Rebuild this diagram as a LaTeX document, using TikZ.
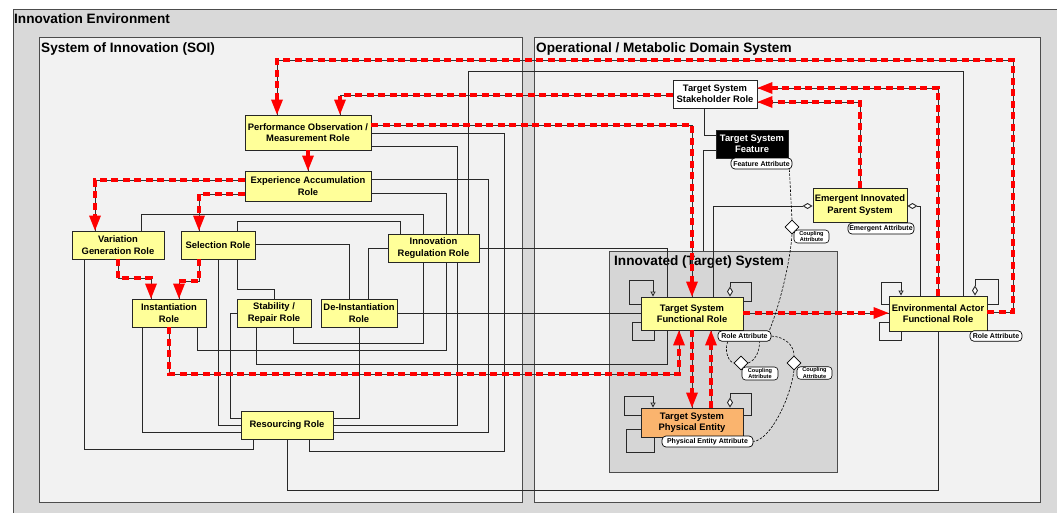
\documentclass[tikz,border=0pt]{standalone}
\usepackage{fontspec}
\setmainfont{Liberation Sans}
\usetikzlibrary{arrows.meta,shapes.geometric}
\definecolor{envgray}{RGB}{217,217,217}
\definecolor{panel}{RGB}{242,242,242}
\definecolor{tsgray}{RGB}{214,214,214}
\definecolor{roleyellow}{RGB}{255,255,153}
\definecolor{entityorange}{RGB}{250,180,110}
\definecolor{wirecol}{RGB}{40,40,40}
\pgfdeclarelayer{frames}
\pgfdeclarelayer{wires}
\pgfsetlayers{frames,wires,main}

\begin{document}
\begin{tikzpicture}[x=1pt,y=-1pt,
  frame/.style={draw=black!70, line width=1.1pt, inner sep=0, anchor=north west},
  title/.style={anchor=base west, inner sep=0, font=\bfseries\fontsize{13.6}{16}\selectfont},
  role/.style={draw=black!85, line width=0.9pt, fill=roleyellow, align=center, inner sep=0,
    font=\bfseries\fontsize{9.4}{11.3}\selectfont},
  attr/.style={draw=black, line width=0.7pt, fill=white, rounded corners=4pt, inner sep=0,
    font=\bfseries\fontsize{7}{8}\selectfont},
  coup/.style={draw=black, line width=0.6pt, fill=white, rounded corners=3.5pt, inner sep=0,
    align=center, font=\bfseries\fontsize{5.6}{6.3}\selectfont},
  cdia/.style={diamond, draw=black, fill=white, line width=0.6pt, minimum width=14pt,
    minimum height=14pt, inner sep=0},
  wire/.style={draw=wirecol, line width=0.9pt},
  flowbase/.style={draw=black!80, line width=0.8pt},
  flow/.style={draw=red, line width=3.4pt, dash pattern=on 7pt off 4.5pt},
  flowtip/.style={-{Triangle[length=15pt,width=12pt,line width=0pt,fill=red]}},
  gen/.style={-{Triangle[open,length=5pt,width=5pt,fill=white]}},
  agg/.style={-{Diamond[length=10pt,width=6pt,fill=white]}},
  link/.style={draw=black, line width=0.6pt, dash pattern=on 2.5pt off 1.5pt},
  ]
\useasboundingbox (0,0) rectangle (1057,512);
\clip (0,0) rectangle (1057,512);

% ---------- frames ----------
\begin{pgfonlayer}{frames}
\fill[white] (0,0) rectangle (1057,512);
\node[frame, fill=envgray, minimum width=1100pt, minimum height=560pt] (ienv) at (13,9) {};
\node[title] at (14,23.5) {Innovation Environment};
\node[frame, fill=panel, minimum width=483pt, minimum height=465pt] (soi) at (39,37) {};
\node[title] at (41,52) {System of Innovation (SOI)};
\node[frame, fill=panel, minimum width=506pt, minimum height=465pt] (ops) at (534,37) {};
\node[title] at (536,52) {Operational / Metabolic Domain System};
\node[frame, fill=tsgray, line width=1pt, minimum width=228pt, minimum height=221pt] (tsys) at (609,251) {};
\node[title] at (614,265.5) {Innovated (Target) System};
\end{pgfonlayer}

% ---------- roles of the system of innovation ----------
\node[role, minimum width=126pt, minimum height=35pt] (perf) at (308,132.5) {Performance Observation /\\Measurement Role};
\node[role, minimum width=126pt, minimum height=30pt] (exp) at (308,186) {Experience Accumulation\\Role};
\node[role, minimum width=92pt, minimum height=28pt] (var) at (118,245) {Variation\\Generation Role};
\node[role, minimum width=74pt, minimum height=28pt] (sel) at (218,245) {Selection Role};
\node[role, minimum width=91pt, minimum height=28pt] (inno) at (433.5,248) {Innovation\\Regulation Role};
\node[role, minimum width=74pt, minimum height=28pt] (inst) at (169,313) {Instantiation\\Role};
\node[role, minimum width=74pt, minimum height=28pt] (stab) at (274,313) {Stability /\\Repair Role};
\node[role, minimum width=76pt, minimum height=28pt] (deinst) at (359,313) {De-Instantiation\\Role};
\node[role, minimum width=92pt, minimum height=28pt] (resr) at (287,425) {Resourcing Role};

% ---------- operational domain ----------
\node[role, fill=white, minimum width=84pt, minimum height=28pt] (stake) at (715,94) {Target System\\Stakeholder Role};
\node[role, fill=black, text=white, minimum width=72pt, minimum height=28pt] (feat) at (752,144) {Target System\\Feature};
\node[role, minimum width=94pt, minimum height=34pt] (emerg) at (860,205) {Emergent Innovated\\Parent System};
\node[role, minimum width=102pt, minimum height=33pt] (func) at (692,313.5) {Target System\\Functional Role};
\node[role, fill=entityorange, minimum width=102pt, minimum height=29pt] (phys) at (692,422.5) {Target System\\Physical Entity};
\node[role, minimum width=98pt, minimum height=35pt] (env) at (938,313.5) {Environmental Actor\\Functional Role};

% ---------- black connectors (behind the boxes) ----------
\begin{pgfonlayer}{wires}
\draw[wire] (perf.east |- 0,133) -- (504,133) -- (504,451) -- (309,451) -- (resr.south -| 309,0);
\draw[wire] (perf.east |- 0,146) -- (457,146) -- (457,425) -- (resr.east |- 0,425);
\draw[wire] (exp.east |- 0,179) -- (488,179) -- (488,432) -- (resr.east |- 0,432);
\draw[wire] (exp.east |- 0,193) -- (446,193) -- (446,350) -- (197,350) -- (inst.south -| 197,0);
\draw[wire] (var.north -| 141,0) -- (141,214) -- (423,214) -- (423,343) -- (293,343) -- (stab.south -| 293,0);
\draw[wire] (sel.north -| 237,0) -- (237,221) -- (400,221) -- (inno.north -| 400,0);
\draw[wire] (sel.east |- 0,244) -- (349,244) -- (deinst.north -| 349,0);
\draw[wire] (sel.south -| 237,0) -- (237,289) -- (274,289) -- (stab.north);
\draw[wire] (sel.south -| 218,0) -- (218,425) -- (resr.west |- 0,425);
\draw[wire] (var.south -| 84,0) -- (84,449) -- (253,449) -- (resr.south -| 253,0);
\draw[wire] (inst.south -| 142,0) -- (142,432) -- (resr.west |- 0,432);
\draw[wire] (stab.west) -- (230,313) -- (230,418) -- (resr.west |- 0,418);
\draw[wire] (deinst.south) -- (359,418) -- (resr.east |- 0,418);
\draw[wire] (resr.south) -- (287,490) -- (938,490) -- (env.south);
\draw[wire] (inno.north -| 468,0) -- (468,71) -- (963,71) -- (env.north -| 963,0);
\draw[wire] (inno.east |- 0,248) -- (667,248) -- (667,364) -- (256,364) -- (stab.south -| 256,0);
\draw[wire] (inno.west |- 0,248) -- (368,248) -- (deinst.north -| 368,0);
\draw[wire] (deinst.east) -- (func.west |- 0,313);
\draw[wire] (stake.south -| 704,0) -- (704,135) -- (feat.west |- 0,135);
\draw[wire] (feat.west |- 0,150) -- (703,150) -- (tsys.north -| 703,0);
\draw[wire, agg] (func.north -| 713,0) -- (713,206) -- (emerg.west |- 0,206);
\draw[wire, agg] (env.north -| 920,0) -- (920,206) -- (emerg.east |- 0,206);

% ---------- self loops ----------
\draw[wire, gen] (func.west |- 0,304) -- (629,304) -- (629,280) -- (653,280) -- (func.north -| 653,0);
\draw[wire] (func.west |- 0,322) -- (632,322) -- (632,340) -- (654,340) -- (func.south -| 654,0);
\draw[wire, agg] (func.east |- 0,301) -- (751,301) -- (751,282) -- (730,282) -- (func.north -| 730,0);
\draw[wire, gen] (phys.west |- 0,415) -- (624,415) -- (624,396) -- (653,396) -- (phys.north -| 653,0);
\draw[wire] (phys.west |- 0,429) -- (626,429) -- (626,452) -- (654,452) -- (phys.south -| 654,0);
\draw[wire, agg] (phys.east |- 0,415) -- (751,415) -- (751,393) -- (730,393) -- (phys.north -| 730,0);
\draw[wire, gen] (env.west |- 0,304) -- (881,304) -- (881,282) -- (901,282) -- (env.north -| 901,0);
\draw[wire] (env.west |- 0,322) -- (879,322) -- (879,340) -- (901,340) -- (env.south -| 901,0);
\draw[wire, agg] (env.east |- 0,304) -- (998,304) -- (998,279) -- (975,279) -- (env.north -| 975,0);
\end{pgfonlayer}

% ---------- red flows ----------
\foreach \p in {
  {(env.east |- 0,312) -- (1013,312) -- (1013,60) -- (277,60) -- (perf.north -| 277,0)},
  {(stake.west |- 0,95) -- (340,95) -- (perf.north -| 340,0)},
  {(perf.east |- 0,125) -- (692,125) -- (func.north -| 692,0)},
  {(env.north) -- (938,88) -- (stake.east |- 0,88)},
  {(emerg.north) -- (860,102) -- (stake.east |- 0,102)},
  {(perf.south) -- (exp.north)},
  {(exp.west |- 0,180) -- (95,180) -- (var.north -| 95,0)},
  {(exp.west |- 0,194) -- (199,194) -- (sel.north -| 199,0)},
  {(var.south -| 118,0) -- (118,278) -- (151,278) -- (inst.north -| 151,0)},
  {(sel.south -| 199,0) -- (199,281) -- (179,281) -- (inst.north -| 179,0)},
  {(inst.south) -- (169,374) -- (679,374) -- (func.south -| 679,0)},
  {(func.south) -- (phys.north)},
  {(phys.north -| 711,0) -- (func.south -| 711,0)},
  {(func.east |- 0,313) -- (env.west |- 0,313)}}
{
  \draw[flowbase] \p;
  \draw[flow, flowtip] \p;
}

% ---------- attributes and couplings ----------
\node[attr, minimum width=61pt, minimum height=11pt] (featattr) at (761.5,163.5) {Feature Attribute};
\node[attr, minimum width=66pt, minimum height=11pt] (emattr) at (881,228.5) {Emergent Attribute};
\node[attr, minimum width=53pt, minimum height=10.5pt] (roleattr) at (744.5,336) {Role Attribute};
\node[attr, minimum width=52pt, minimum height=10.5pt] (envattr) at (996,336) {Role Attribute};
\node[attr, minimum width=91pt, minimum height=11pt] (physattr) at (707.5,441.5) {Physical Entity Attribute};

\node[cdia] (d1) at (792,227) {};
\node[cdia] (d2) at (741,363) {};
\node[cdia] (d3) at (794,363) {};

\draw[link] ([xshift=-3pt]featattr.south east) .. controls (791,195) .. (d1.north);
\draw[link] (d1.south) .. controls (790,265) and (778,310) .. ([xshift=-2pt]roleattr.north east);
\draw[link] ([xshift=10pt]roleattr.south west) .. controls (724,352) and (729,362) .. (d2.west);
\draw[link] (d2.east) .. controls (756,360) and (760,350) .. ([xshift=-12pt]roleattr.south east);
\draw[link] (roleattr.east) .. controls (785,337) and (794,345) .. (d3.north);
\draw[link] (d3.south) .. controls (790,400) and (770,440) .. (physattr.east);

\node[coup, minimum width=35pt, minimum height=13pt] (c1) at (811.5,236.5) {Coupling\\Attribute};
\node[coup, minimum width=36pt, minimum height=13pt] (c2) at (760,373.5) {Coupling\\Attribute};
\node[coup, minimum width=35pt, minimum height=12.5pt] (c3) at (814.5,373) {Coupling\\Attribute};
\end{tikzpicture}
\end{document}
